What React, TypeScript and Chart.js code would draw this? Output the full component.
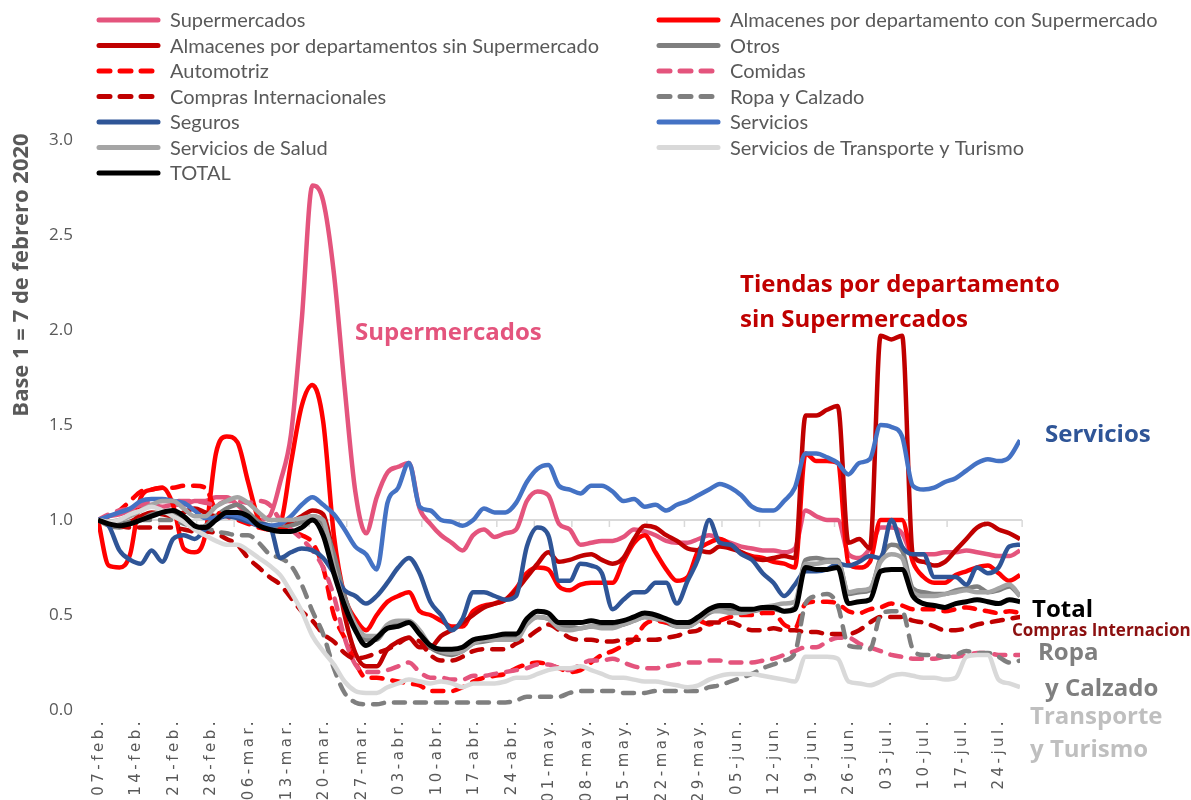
import React, { useEffect, useRef } from "react";
import { Chart, registerables } from "chart.js";

Chart.register(...registerables);

// x grid: one value every 2 days starting 07-feb-2020 (day 0) up to day 172
const dayStep = 2;
const lastDay = 172;

const weekLabels = [
  "07-feb.", "14-feb.", "21-feb.", "28-feb.", "06-mar.", "13-mar.", "20-mar.", "27-mar.",
  "03-abr.", "10-abr.", "17-abr.", "24-abr.", "01-may.", "08-may.", "15-may.", "22-may.",
  "29-may.", "05-jun.", "12-jun.", "19-jun.", "26-jun.", "03-jul.", "10-jul.", "17-jul.", "24-jul.",
];

const supermercados = [
  1.0, 1.02, 1.03, 1.05, 1.07, 1.08, 1.07, 1.08, 1.08, 1.1,
  1.1, 1.12, 1.12, 1.08, 1.03, 1.0, 1.02, 1.2, 1.45, 2.05,
  2.76, 2.68, 2.3, 1.7, 1.15, 0.93, 1.12, 1.25, 1.28, 1.3,
  1.06, 0.98, 0.92, 0.88, 0.84, 0.92, 0.95, 0.91, 0.93, 0.95,
  1.1, 1.15, 1.13, 0.98, 0.95, 0.87, 0.88, 0.89, 0.89, 0.91,
  0.95, 0.94, 0.92, 0.89, 0.88, 0.88, 0.9, 0.92, 0.9, 0.88,
  0.86, 0.85, 0.84, 0.84, 0.83, 0.85, 1.05, 1.02, 1.0, 1.0,
  0.82, 0.8, 0.85, 0.96, 0.96, 0.93, 0.82, 0.82, 0.82, 0.83,
  0.83, 0.84, 0.83, 0.82, 0.81, 0.81, 0.84,
];

const almacenesConSuper = [
  1.0, 0.76, 0.75, 0.82, 1.12, 1.16, 1.17, 1.08, 0.85, 0.83,
  0.92, 1.35, 1.44, 1.41, 1.2, 1.0, 0.95, 0.98, 1.3, 1.6,
  1.71, 1.52, 0.92, 0.6, 0.48, 0.42, 0.5, 0.57, 0.6, 0.62,
  0.52, 0.5, 0.47, 0.44, 0.44, 0.52, 0.55, 0.56, 0.58, 0.64,
  0.72, 0.75, 0.74, 0.65, 0.63, 0.66, 0.67, 0.67, 0.67, 0.78,
  0.88, 0.92, 0.83, 0.74, 0.68, 0.7, 0.84, 0.88, 0.9, 0.87,
  0.83, 0.81, 0.8, 0.78, 0.77, 0.75, 1.35, 1.31, 1.31, 1.3,
  0.77, 0.75, 0.78, 1.0, 1.0, 1.0, 0.78, 0.7, 0.67, 0.67,
  0.71, 0.73, 0.75, 0.76, 0.72, 0.68, 0.71,
];

const almacenesSinSuper = [
  1.0, 0.98, 0.97, 0.99, 1.02, 1.04, 1.03, 1.02, 1.04, 1.06,
  1.04, 1.02, 1.03, 1.02, 0.99, 0.97, 0.96, 0.97, 0.99, 1.02,
  1.05, 1.03, 0.8, 0.5, 0.3, 0.23, 0.23, 0.32, 0.36, 0.38,
  0.33, 0.33, 0.39, 0.42, 0.46, 0.5, 0.54, 0.56, 0.58, 0.63,
  0.7, 0.77, 0.83, 0.78, 0.79, 0.81, 0.82, 0.79, 0.77, 0.8,
  0.9, 0.97, 0.96, 0.92, 0.89, 0.85, 0.84, 0.83, 0.86, 0.85,
  0.83, 0.8, 0.79, 0.8, 0.81, 0.8, 1.55, 1.55, 1.58, 1.6,
  0.88, 0.9, 0.85, 1.97, 1.95, 1.97, 0.82, 0.78, 0.76, 0.78,
  0.84, 0.9, 0.96, 0.98, 0.95, 0.93, 0.9,
];

const otros = [
  1.0, 0.97, 0.96, 0.98, 1.0, 1.03, 1.04, 1.03, 1.0, 0.96,
  0.97, 1.02, 1.06, 1.08, 1.04, 0.99, 0.97, 0.96, 0.97, 0.99,
  1.02, 0.98, 0.82, 0.6, 0.45, 0.37, 0.37, 0.44, 0.46, 0.46,
  0.4, 0.33, 0.3, 0.29, 0.31, 0.35, 0.36, 0.37, 0.38, 0.39,
  0.46, 0.49, 0.48, 0.44, 0.44, 0.43, 0.44, 0.44, 0.44, 0.45,
  0.47, 0.49, 0.48, 0.46, 0.44, 0.44, 0.47, 0.51, 0.53, 0.53,
  0.52, 0.52, 0.53, 0.53, 0.52, 0.54, 0.79, 0.8, 0.79, 0.79,
  0.61, 0.62, 0.63, 0.8, 0.87, 0.84, 0.64, 0.62, 0.61, 0.61,
  0.63, 0.64, 0.65, 0.62, 0.63, 0.65, 0.6,
];

const automotriz = [
  1.0, 1.02, 1.05, 1.1, 1.15, 1.16, 1.17, 1.17, 1.18, 1.18,
  1.17, 1.05, 1.02, 1.0, 0.98, 0.96, 0.95, 0.95, 0.94, 0.92,
  0.88, 0.75, 0.5, 0.38, 0.25, 0.17, 0.17, 0.16, 0.15, 0.14,
  0.13, 0.1, 0.1, 0.1, 0.12, 0.15, 0.17, 0.18, 0.19, 0.22,
  0.24, 0.25, 0.24, 0.22, 0.2, 0.21, 0.25, 0.29, 0.31, 0.34,
  0.37, 0.45, 0.47, 0.46, 0.45, 0.46, 0.47, 0.45, 0.47, 0.49,
  0.5, 0.5, 0.51, 0.51, 0.45, 0.43, 0.56, 0.57, 0.57, 0.56,
  0.52, 0.51, 0.53, 0.54, 0.56, 0.55, 0.53, 0.53, 0.53, 0.52,
  0.53, 0.54, 0.53, 0.52, 0.51, 0.52, 0.51,
];

const comidas = [
  1.0, 1.03, 1.05, 1.06, 1.08, 1.1, 1.1, 1.1, 1.1, 1.1,
  1.09, 1.08, 1.1, 1.1, 1.09, 1.1, 1.08, 1.0, 0.95, 0.9,
  0.84, 0.75, 0.6, 0.38, 0.24, 0.2, 0.2, 0.21, 0.23, 0.25,
  0.2, 0.17, 0.17, 0.16, 0.16, 0.18, 0.18, 0.19, 0.2, 0.21,
  0.22, 0.24, 0.24, 0.22, 0.21, 0.24, 0.26, 0.26, 0.27, 0.25,
  0.23, 0.22, 0.22, 0.23, 0.24, 0.25, 0.25, 0.26, 0.26, 0.25,
  0.25, 0.25, 0.26, 0.27, 0.29, 0.31, 0.33, 0.33, 0.36, 0.38,
  0.38, 0.35, 0.33, 0.31, 0.29, 0.28, 0.27, 0.27, 0.27, 0.28,
  0.28, 0.29, 0.3, 0.3, 0.29, 0.29, 0.29,
];

const comprasInternacionales = [
  1.0, 0.98, 0.97, 0.96, 0.96, 0.96, 0.96, 0.96, 0.95, 0.94,
  0.94, 0.93, 0.9, 0.87, 0.8, 0.75, 0.7, 0.66, 0.59, 0.52,
  0.47, 0.4, 0.36, 0.3, 0.27, 0.28, 0.3, 0.32, 0.35, 0.38,
  0.36, 0.29, 0.26, 0.26, 0.28, 0.31, 0.32, 0.32, 0.32, 0.35,
  0.38, 0.42, 0.45, 0.42, 0.38, 0.37, 0.37, 0.36, 0.36, 0.37,
  0.37, 0.37, 0.37, 0.38, 0.39, 0.41, 0.42, 0.46, 0.46, 0.46,
  0.44, 0.42, 0.42, 0.43, 0.42, 0.42, 0.41, 0.41, 0.4, 0.4,
  0.4, 0.42, 0.46, 0.49, 0.49, 0.49, 0.47, 0.46, 0.44, 0.42,
  0.42, 0.43, 0.45, 0.46, 0.47, 0.48, 0.49,
];

const ropaCalzado = [
  1.0, 0.98, 0.98, 0.99, 1.0, 1.0, 1.0, 1.0, 0.98, 0.97,
  0.96, 0.94, 0.93, 0.92, 0.92, 0.88, 0.82, 0.8, 0.76, 0.66,
  0.52, 0.4, 0.22, 0.09, 0.04, 0.03, 0.03, 0.04, 0.04, 0.04,
  0.04, 0.04, 0.04, 0.04, 0.04, 0.04, 0.04, 0.04, 0.04, 0.05,
  0.07, 0.07, 0.07, 0.07, 0.09, 0.1, 0.1, 0.1, 0.1, 0.09,
  0.09, 0.09, 0.1, 0.1, 0.1, 0.1, 0.1, 0.12, 0.13, 0.15,
  0.17, 0.19, 0.22, 0.24, 0.26, 0.3, 0.56, 0.6, 0.61, 0.55,
  0.34, 0.33, 0.32, 0.5, 0.52, 0.52, 0.32, 0.29, 0.29, 0.28,
  0.29, 0.31, 0.3, 0.3, 0.28, 0.25, 0.26,
];

const seguros = [
  1.0, 0.97, 0.84, 0.79, 0.77, 0.84, 0.78, 0.9, 0.92, 0.9,
  0.95, 1.0, 1.02, 1.01, 0.99, 0.98, 0.97, 0.8, 0.83, 0.85,
  0.84, 0.8, 0.72, 0.63, 0.6, 0.56, 0.6, 0.67, 0.75, 0.8,
  0.72, 0.57, 0.5, 0.42, 0.48, 0.62, 0.62, 0.6, 0.58, 0.6,
  0.86, 0.96, 0.92, 0.68, 0.68, 0.77, 0.76, 0.72, 0.53, 0.58,
  0.62, 0.62, 0.67, 0.67, 0.56, 0.68, 0.8, 1.0, 0.88, 0.87,
  0.82, 0.79, 0.72, 0.67, 0.6, 0.66, 0.73, 0.73, 0.74, 0.77,
  0.76, 0.78, 0.81, 0.8, 1.0, 0.86, 0.82, 0.82, 0.7, 0.7,
  0.7, 0.66, 0.75, 0.72, 0.75, 0.86, 0.87,
];

const servicios = [
  1.0, 1.02, 1.04, 1.06, 1.1, 1.11, 1.11, 1.1, 1.09, 1.05,
  1.01, 1.01, 1.03, 1.02, 1.0, 0.97, 0.97, 0.98, 1.02, 1.08,
  1.12, 1.08, 1.03, 0.95, 0.86, 0.82, 0.74, 1.09, 1.17, 1.3,
  1.07, 1.05, 1.0, 0.99, 0.97, 1.0, 1.06, 1.04, 1.04, 1.09,
  1.2, 1.27, 1.29, 1.18, 1.16, 1.14, 1.18, 1.18, 1.15, 1.1,
  1.11, 1.07, 1.08, 1.05, 1.08, 1.1, 1.13, 1.16, 1.19, 1.17,
  1.13, 1.07, 1.05, 1.05, 1.1, 1.17, 1.35, 1.35, 1.33, 1.3,
  1.24, 1.3, 1.32, 1.5, 1.49, 1.44, 1.18, 1.16, 1.17, 1.2,
  1.22, 1.26, 1.3, 1.32, 1.31, 1.33, 1.42,
];

const serviciosSalud = [
  1.0, 0.99, 1.0, 1.02, 1.05, 1.08, 1.1, 1.1, 1.06, 1.02,
  1.02, 1.07, 1.1, 1.12, 1.09, 1.04, 1.0, 1.0, 1.0, 1.01,
  1.02, 1.0, 0.75, 0.56, 0.45, 0.39, 0.39, 0.45, 0.47, 0.47,
  0.42, 0.34, 0.31, 0.3, 0.31, 0.35, 0.37, 0.37, 0.37, 0.37,
  0.45, 0.49, 0.48, 0.43, 0.42, 0.43, 0.44, 0.43, 0.43, 0.45,
  0.47, 0.49, 0.48, 0.47, 0.44, 0.44, 0.47, 0.52, 0.52, 0.51,
  0.51, 0.52, 0.54, 0.55, 0.56, 0.57, 0.77, 0.77, 0.78, 0.78,
  0.62, 0.63, 0.64, 0.78, 0.82, 0.8, 0.62, 0.6, 0.6, 0.61,
  0.62, 0.63, 0.62, 0.62, 0.64, 0.66, 0.6,
];

const transporteTurismo = [
  1.0, 0.99, 1.0, 1.03, 1.05, 1.07, 1.05, 1.02, 0.99, 0.95,
  0.92, 0.89, 0.87, 0.87, 0.84, 0.8, 0.76, 0.71, 0.62, 0.52,
  0.39, 0.31, 0.24, 0.15, 0.1, 0.09, 0.09, 0.12, 0.14, 0.16,
  0.15, 0.14, 0.15, 0.14, 0.12, 0.14, 0.14, 0.14, 0.15, 0.17,
  0.17, 0.19, 0.21, 0.22, 0.22, 0.23, 0.21, 0.19, 0.17, 0.17,
  0.16, 0.15, 0.15, 0.14, 0.13, 0.12, 0.13, 0.16, 0.18, 0.19,
  0.19, 0.19, 0.18, 0.17, 0.16, 0.15, 0.28, 0.28, 0.28, 0.27,
  0.15, 0.14, 0.13, 0.15, 0.18, 0.19, 0.18, 0.17, 0.17, 0.16,
  0.17, 0.28, 0.29, 0.29, 0.16, 0.14, 0.12,
];

const total = [
  1.0, 0.98, 0.97, 0.98, 1.0, 1.02, 1.04, 1.05, 1.02, 0.97,
  0.96, 1.0, 1.04, 1.04, 1.02, 0.97, 0.95, 0.94, 0.94, 0.96,
  1.0, 0.92, 0.72, 0.55, 0.42, 0.34, 0.38, 0.43, 0.44, 0.46,
  0.4, 0.34, 0.32, 0.32, 0.33, 0.37, 0.38, 0.39, 0.4, 0.4,
  0.48, 0.52, 0.51, 0.46, 0.46, 0.46, 0.47, 0.46, 0.46, 0.47,
  0.49, 0.51, 0.5, 0.48, 0.46, 0.46, 0.49, 0.53, 0.55, 0.55,
  0.53, 0.53, 0.54, 0.54, 0.52, 0.53, 0.75, 0.74, 0.74, 0.75,
  0.56, 0.57, 0.58, 0.73, 0.74, 0.74, 0.6, 0.56, 0.55, 0.54,
  0.56, 0.57, 0.58, 0.57, 0.56, 0.58, 0.57,
];

const DASH = [11, 10];

const seriesDefs = [
  { label: "Supermercados", data: supermercados, color: "#E4547D", dash: false, width: 4.5 },
  { label: "Almacenes por departamento con Supermercado", data: almacenesConSuper, color: "#FF0000", dash: false, width: 4.5 },
  { label: "Almacenes por departamentos sin Supermercado", data: almacenesSinSuper, color: "#C00000", dash: false, width: 4.5 },
  { label: "Otros", data: otros, color: "#7F7F7F", dash: false, width: 4.5 },
  { label: "Automotriz", data: automotriz, color: "#FF0000", dash: true, width: 4.5 },
  { label: "Comidas", data: comidas, color: "#E4547D", dash: true, width: 4.5 },
  { label: "Compras Internacionales", data: comprasInternacionales, color: "#C00000", dash: true, width: 4.5 },
  { label: "Ropa y Calzado", data: ropaCalzado, color: "#7F7F7F", dash: true, width: 4.5 },
  { label: "Seguros", data: seguros, color: "#2F5597", dash: false, width: 4.5 },
  { label: "Servicios", data: servicios, color: "#4472C4", dash: false, width: 4.5 },
  { label: "Servicios de Salud", data: serviciosSalud, color: "#A5A5A5", dash: false, width: 4.5 },
  { label: "Servicios de Transporte y Turismo", data: transporteTurismo, color: "#D9D9D9", dash: false, width: 4.5 },
  { label: "TOTAL", data: total, color: "#000000", dash: false, width: 5 },
];

const annotations = [
  { lines: ["Supermercados"], x: 355, y: 333, color: "#E4547D", size: 24, lh: 0 },
  { lines: ["Tiendas por departamento", "sin Supermercados"], x: 740, y: 285, color: "#C00000", size: 24, lh: 35 },
  { lines: ["Servicios"], x: 1045, y: 435, color: "#2F5597", size: 24, lh: 0 },
  { lines: ["Total"], x: 1032, y: 610, color: "#000000", size: 24, lh: 0 },
  { lines: ["Compras Internacionales"], x: 1012, y: 631, color: "#8C1010", size: 17, lh: 0 },
  { lines: ["Ropa"], x: 1038, y: 653, color: "#7F7F7F", size: 24, lh: 0 },
  { lines: ["y Calzado"], x: 1045, y: 689, color: "#7F7F7F", size: 24, lh: 0 },
  { lines: ["Transporte", "y Turismo"], x: 1030, y: 717, color: "#BFBFBF", size: 24, lh: 33 },
];

const customDraw = {
  id: "customDraw",
  beforeDatasetsDraw(chart: any) {
    const { ctx, scales } = chart;
    const x = scales.x;
    const y = scales.y;
    const yy = y.getPixelForValue(1);
    ctx.save();
    ctx.strokeStyle = "#D9D9D9";
    ctx.lineWidth = 2;
    ctx.beginPath();
    ctx.moveTo(x.getPixelForValue(0), yy);
    ctx.lineTo(x.getPixelForValue(lastDay) + 2, yy);
    ctx.stroke();
    ctx.lineWidth = 1.5;
    for (let k = 0; k < weekLabels.length; k++) {
      const px = x.getPixelForValue(7 * k + 4.4);
      ctx.beginPath();
      ctx.moveTo(px, yy);
      ctx.lineTo(px, yy + 7);
      ctx.stroke();
    }
    ctx.restore();
  },
  afterDraw(chart: any) {
    const { ctx, scales } = chart;
    const x = scales.x;
    ctx.save();
    // x labels
    ctx.fillStyle = "#595959";
    ctx.font = "15px 'DejaVu Sans'";
    (ctx as any).letterSpacing = "3.5px";
    ctx.textAlign = "right";
    ctx.textBaseline = "middle";
    weekLabels.forEach((lab, k) => {
      const px = x.getPixelForValue(7 * k) + 1;
      ctx.save();
      ctx.translate(px, 718);
      ctx.rotate(-Math.PI / 2);
      ctx.fillText(lab, 0, 0);
      ctx.restore();
    });
    (ctx as any).letterSpacing = "0px";
    // y title
    ctx.save();
    ctx.translate(22, 275);
    ctx.rotate(-Math.PI / 2);
    ctx.textAlign = "center";
    ctx.textBaseline = "middle";
    ctx.font = "bold 22px 'Open Sans'";
    ctx.fillStyle = "#595959";
    ctx.fillText("Base 1 = 7 de febrero 2020", 0, 0);
    ctx.restore();
    // legend
    chart.data.datasets.forEach((ds: any, i: number) => {
      const col = i % 2;
      const row = Math.floor(i / 2);
      const lx = col ? 657 : 97;
      const ty = 20 + row * 25.5;
      ctx.save();
      ctx.strokeStyle = ds.borderColor;
      ctx.lineWidth = 5;
      ctx.lineCap = "round";
      ctx.setLineDash(ds.borderDash || []);
      ctx.beginPath();
      ctx.moveTo(lx + 2, ty);
      ctx.lineTo(lx + 61, ty);
      ctx.stroke();
      ctx.restore();
      ctx.fillStyle = "#595959";
      ctx.font = "20px Lato";
      ctx.textAlign = "left";
      ctx.textBaseline = "middle";
      ctx.fillText(ds.label, lx + 73, ty + 1);
    });
    // annotations
    annotations.forEach((a) => {
      ctx.fillStyle = a.color;
      ctx.font = `bold ${a.size}px 'Open Sans'`;
      ctx.textAlign = "left";
      ctx.textBaseline = "middle";
      a.lines.forEach((t, j) => ctx.fillText(t, a.x, a.y + j * a.lh));
    });
    ctx.restore();
  },
};

export default function App() {
  const ref = useRef<HTMLCanvasElement | null>(null);
  useEffect(() => {
    document.body.style.margin = "0";
    if (!ref.current) return;
    const n = seriesDefs.length;
    const chart = new Chart(ref.current, {
      type: "line",
      data: {
        datasets: seriesDefs.map((s, i) => ({
          label: s.label,
          data: s.data.map((v, j) => ({ x: j * dayStep, y: v })),
          borderColor: s.color,
          backgroundColor: s.color,
          borderWidth: s.width,
          borderDash: s.dash ? DASH : [],
          borderCapStyle: s.dash ? "round" : "butt",
          borderJoinStyle: "round",
          pointRadius: 0,
          pointHoverRadius: 0,
          fill: false,
          cubicInterpolationMode: "monotone",
          order: n - i,
        })),
      },
      options: {
        animation: false,
        responsive: false,
        devicePixelRatio: 1,
        layout: { padding: { top: 140, right: 171, bottom: 90, left: 0 } },
        plugins: { legend: { display: false }, tooltip: { enabled: false }, title: { display: false } },
        scales: {
          x: { type: "linear", min: 0, max: lastDay, display: false },
          y: {
            min: 0,
            max: 3,
            grid: { display: false, drawTicks: false },
            border: { display: false },
            ticks: {
              stepSize: 0.5,
              padding: 25,
              color: "#595959",
              font: { family: "'Open Sans'", size: 17 },
              callback: (v: any) => Number(v).toFixed(1),
            },
            afterFit: (scale: any) => {
              scale.width = 98;
            },
          },
        },
      } as any,
      plugins: [customDraw],
    });
    return () => chart.destroy();
  }, []);
  return <canvas ref={ref} width={1191} height={800} style={{ display: "block" }} />;
}
